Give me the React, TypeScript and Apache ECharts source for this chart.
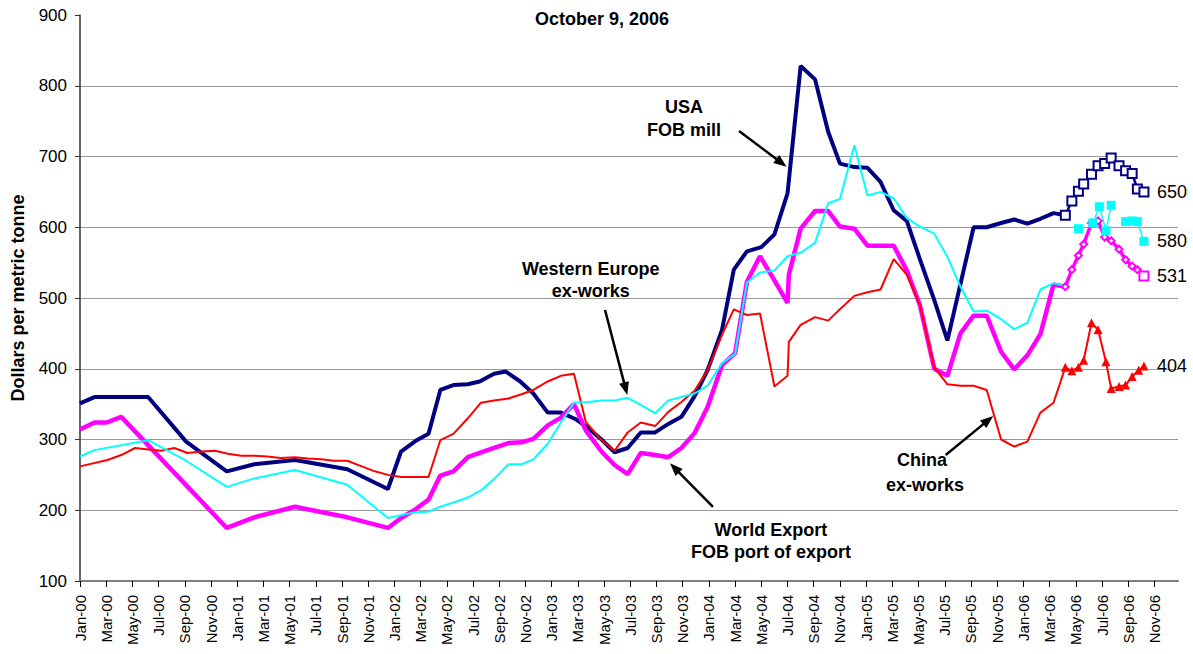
import React, { useEffect, useRef } from "react";
import * as echarts from "echarts";

// x values are months since Jan-2000 (0 = Jan-00)
const tickLabels = [
  "Jan-00", "Mar-00", "May-00", "Jul-00", "Sep-00", "Nov-00",
  "Jan-01", "Mar-01", "May-01", "Jul-01", "Sep-01", "Nov-01",
  "Jan-02", "Mar-02", "May-02", "Jul-02", "Sep-02", "Nov-02",
  "Jan-03", "Mar-03", "May-03", "Jul-03", "Sep-03", "Nov-03",
  "Jan-04", "Mar-04", "May-04", "Jul-04", "Sep-04", "Nov-04",
  "Jan-05", "Mar-05", "May-05", "Jul-05", "Sep-05", "Nov-05",
  "Jan-06", "Mar-06", "May-06", "Jul-06", "Sep-06", "Nov-06",
];
const tickMonths = tickLabels.map((_, i) => i * 2);

// USA FOB mill
const usaMonths = [0, 1.1, 5.2, 8.1, 11.2, 13.3, 16.4, 20.4, 23.5, 24.5, 25.7, 26.6, 27.5, 28.5, 29.6, 30.5, 31.6, 32.5, 33.6, 34.6, 35.7, 36.7, 37.8, 38.8, 39.8, 40.8, 41.8, 42.8, 43.9, 44.9, 45.9, 46.9, 47.9, 49.0, 49.9, 50.9, 52.0, 53.0, 54.0, 55.0, 56.1, 57.1, 58.0, 59.1, 60.1, 61.1, 62.1, 63.1, 64.1, 65.2, 66.2, 67.2, 68.2, 69.2, 70.3, 71.3, 72.3, 73.3, 74.3, 75.2];
const usaValues = [351, 360, 360, 297, 255, 265, 271, 258, 230, 283, 299, 308, 370, 377, 378, 382, 393, 396, 382, 365, 338, 338, 329, 316, 300, 282, 288, 310, 310, 322, 332, 361, 398, 455, 540, 566, 572, 590, 648, 828, 809, 735, 690, 685, 684, 664, 624, 609, 555, 497, 440, 520, 600, 600, 606, 611, 605, 612, 620, 617];
const usaRecentMonths = [75.2, 75.7, 76.2, 76.6, 77.2, 77.7, 78.2, 78.7, 79.3, 79.8, 80.3, 80.7, 81.2];
const usaRecentValues = [617, 637, 651, 661, 675, 687, 690, 698, 687, 680, 676, 654, 650];

// World Export FOB port of export
const worldMonths = [0, 1.1, 2.05, 3.15, 11.2, 13.3, 16.4, 20.4, 23.5, 24.5, 25.5, 26.6, 27.5, 28.5, 29.6, 30.5, 31.6, 32.7, 33.7, 34.6, 35.7, 36.7, 37.7, 38.6, 39.8, 40.8, 41.8, 42.8, 43.9, 44.9, 45.9, 46.9, 47.9, 49.0, 50.0, 50.9, 51.9, 53.0, 54.0, 54.1, 55.0, 56.1, 57.1, 58.0, 59.1, 60.1, 61.1, 62.1, 63.1, 64.1, 65.2, 66.2, 67.2, 68.2, 69.2, 70.3, 71.3, 72.3, 73.3, 74.3, 75.2];
const worldValues = [314, 324, 324, 332, 175, 190, 205, 190, 175, 189, 200, 215, 249, 255, 275, 281, 288, 295, 296, 301, 320, 331, 350, 313, 283, 264, 251, 281, 278, 275, 288, 309, 346, 405, 422, 523, 559, 525, 493, 533, 598, 623, 623, 601, 598, 574, 574, 574, 539, 490, 400, 390, 450, 475, 475, 424, 399, 419, 449, 519, 516];
const worldRecentMonths = [75.2, 75.7, 76.2, 76.6, 77.2, 77.7, 78.2, 78.7, 79.3, 79.8, 80.3, 80.7, 81.2];
const worldRecentValues = [516, 540, 560, 576, 606, 609, 586, 581, 569, 554, 545, 540, 531];

// Western Europe ex-works
const europeMonths = [0, 1.1, 5.2, 8.1, 11.2, 13.3, 16.4, 20.4, 23.5, 24.5, 25.5, 26.6, 27.5, 28.5, 29.6, 30.6, 31.6, 32.7, 33.7, 34.6, 35.7, 36.7, 37.7, 38.8, 39.8, 40.8, 41.8, 42.8, 43.9, 44.9, 45.9, 46.9, 47.9, 49.0, 50.0, 50.9, 51.9, 53.0, 54.0, 55.0, 56.1, 57.1, 58.0, 59.1, 60.1, 61.1, 62.1, 63.1, 64.1, 65.2, 66.2, 67.2, 68.2, 69.2, 70.3, 71.3, 72.3, 73.3, 74.3, 75.2];
const europeValues = [276, 285, 299, 270, 233, 245, 257, 236, 189, 193, 197, 198, 205, 211, 218, 228, 244, 265, 265, 272, 294, 324, 352, 353, 355, 355, 359, 349, 337, 355, 360, 365, 376, 408, 421, 522, 536, 539, 559, 564, 578, 634, 640, 716, 645, 650, 641, 613, 601, 591, 558, 516, 481, 482, 470, 456, 465, 512, 521, 517];
const europeRecentMonths = [76.2, 76.7, 77.3, 77.8, 78.3, 78.7, 79.2, 79.8, 80.3, 80.7, 81.2];
const europeRecentValues = [598, null, 606, 629, 595, 631, null, 608, 609, 608, 580];

// China ex-works
const chinaMonths = [0, 2.1, 3.15, 4.2, 5.2, 6.2, 7.2, 8.2, 9.3, 10.3, 11.3, 12.3, 13.3, 14.3, 15.3, 16.4, 17.4, 18.4, 19.4, 20.4, 21.5, 22.5, 23.5, 24.5, 25.5, 26.6, 27.5, 28.5, 29.6, 30.6, 31.6, 32.7, 33.7, 34.6, 35.7, 36.7, 37.7, 38.6, 39.8, 40.8, 41.8, 42.8, 43.9, 44.9, 45.9, 46.9, 47.9, 49.0, 49.9, 50.9, 51.9, 53.0, 54.0, 54.1, 55.0, 56.1, 57.1, 58.0, 59.1, 60.1, 61.1, 62.1, 63.1, 64.1, 65.2, 66.2, 67.2, 68.2, 69.2, 70.3, 71.3, 72.3, 73.3, 74.3, 75.2];
const chinaValues = [262, 271, 278, 288, 286, 284, 288, 281, 283, 284, 280, 277, 277, 276, 274, 275, 273, 272, 270, 270, 262, 255, 250, 247, 247, 247, 299, 308, 330, 352, 355, 358, 364, 370, 382, 390, 393, 325, 299, 284, 310, 324, 319, 339, 353, 369, 398, 448, 484, 476, 478, 375, 390, 438, 462, 473, 468, 484, 503, 508, 512, 555, 533, 490, 402, 378, 376, 376, 370, 300, 290, 297, 338, 352, 402];
const chinaRecentMonths = [75.2, 75.7, 76.2, 76.6, 77.2, 77.7, 78.3, 78.7, 79.3, 79.8, 80.3, 80.8, 81.2];
const chinaRecentValues = [402, 397, 402, 412, 465, 455, 410, 372, 375, 377, 389, 398, 404];

// Annotations (anchored in data space: [month, value])
const annotations = [
  { lines: [{ text: "USA", at: [46.1, 770] }, { text: "FOB mill", at: [46.1, 737.5] }], tail: [50.3, 736], head: [53.93, 685.6] },
  { lines: [{ text: "Western Europe", at: [38.98, 541] }, { text: "ex-works", at: [38.98, 509.9] }], tail: [40.07, 483], head: [41.77, 362.9] },
  { lines: [{ text: "World Export", at: [52.73, 172.1] }, { text: "FOB port of export", at: [52.73, 141] }], tail: [48.31, 204.6], head: [45.03, 266.4] },
  { lines: [{ text: "China", at: [64.26, 271] }, { text: "ex-works", at: [64.49, 235.7] }], tail: [66.07, 278.1], head: [69.7, 333.2] },
];

const FONT = "'Liberation Sans', Arial, sans-serif";
const NAVY = "#000080";
const MAGENTA = "#FF00FF";
const CYAN = "#00FFFF";
const RED = "#FF0000";

const pairs = (xs: number[], ys: (number | null)[]) =>
  xs.map((x, i) => (ys[i] === null ? [x, "-"] : [x, ys[i]]));

const endLabel = {
  show: true,
  formatter: (p: any) => String(Array.isArray(p.value) ? p.value[1] : p.value),
  color: "#000",
  fontSize: 18,
  fontFamily: FONT,
  distance: 13,
};

export default function App() {
  const ref = useRef<HTMLDivElement>(null);

  useEffect(() => {
    if (!ref.current) return;
    const chart = echarts.init(ref.current, null, { renderer: "svg" });

    const worldRecentData: any[] = pairs(worldRecentMonths, worldRecentValues);
    const lastIdx = worldRecentData.length - 1;
    worldRecentData[lastIdx] = { value: worldRecentData[lastIdx], symbol: "rect", symbolSize: 9 };

    const option: any = {
      animation: false,
      backgroundColor: "#ffffff",
      textStyle: { fontFamily: FONT },
      title: {
        text: "October 9, 2006",
        left: 530,
        top: 5,
        textStyle: { fontFamily: FONT, fontWeight: "bold", fontSize: 18, color: "#000" },
      },
      grid: { left: 80, right: 15, top: 15, bottom: 73, containLabel: false },
      xAxis: {
        type: "value",
        min: 0,
        max: 83.8,
        axisLine: { show: true, onZero: false, lineStyle: { color: "#808080", width: 2 } },
        axisTick: { show: true, customValues: tickMonths, length: 6, lineStyle: { color: "#000", width: 1 } },
        axisLabel: {
          customValues: tickMonths,
          rotate: 90,
          margin: 14,
          fontSize: 15,
          color: "#000",
          fontFamily: FONT,
          formatter: (v: number) => tickLabels[Math.round(v / 2)] ?? "",
        },
        splitLine: { show: false },
      },
      yAxis: {
        type: "value",
        min: 100,
        max: 900,
        interval: 100,
        name: "Dollars per metric tonne",
        nameLocation: "middle",
        nameRotate: 90,
        nameGap: 53,
        nameTextStyle: { fontFamily: FONT, fontWeight: "bold", fontSize: 18, color: "#000" },
        axisLine: { show: true, lineStyle: { color: "#333", width: 1.5 } },
        axisTick: { show: true, length: 5, lineStyle: { color: "#333" } },
        axisLabel: { fontSize: 17, margin: 13, color: "#000", fontFamily: FONT },
        splitLine: { show: true, showMaxLine: false, lineStyle: { color: "#999", width: 1 } },
      },
      series: [
        {
          name: "USA FOB mill",
          type: "line",
          data: pairs(usaMonths, usaValues),
          symbol: "none",
          lineStyle: { color: NAVY, width: 4 },
          itemStyle: { color: NAVY },
        },
        {
          name: "World Export FOB port of export",
          type: "line",
          data: pairs(worldMonths, worldValues),
          symbol: "none",
          lineStyle: { color: MAGENTA, width: 4.5 },
          itemStyle: { color: MAGENTA },
        },
        {
          name: "China ex-works",
          type: "line",
          data: pairs(chinaMonths, chinaValues),
          symbol: "none",
          lineStyle: { color: RED, width: 2 },
          itemStyle: { color: RED },
        },
        {
          name: "Western Europe ex-works",
          type: "line",
          data: pairs(europeMonths, europeValues),
          symbol: "none",
          lineStyle: { color: CYAN, width: 2 },
          itemStyle: { color: CYAN },
        },
        {
          name: "USA FOB mill (recent)",
          type: "line",
          data: pairs(usaRecentMonths, usaRecentValues),
          symbol: "rect",
          symbolSize: 9,
          showAllSymbol: true,
          lineStyle: { color: NAVY, width: 2.5 },
          itemStyle: { color: "#fff", borderColor: NAVY, borderWidth: 2 },
          endLabel,
        },
        {
          name: "World Export (recent)",
          type: "line",
          data: worldRecentData,
          symbol: "diamond",
          symbolSize: 7,
          showAllSymbol: true,
          lineStyle: { color: MAGENTA, width: 3.5 },
          itemStyle: { color: "#fff", borderColor: MAGENTA, borderWidth: 2 },
          endLabel,
        },
        {
          name: "China ex-works (recent)",
          type: "line",
          data: pairs(chinaRecentMonths, chinaRecentValues),
          symbol: "triangle",
          symbolSize: 9,
          showAllSymbol: true,
          lineStyle: { color: RED, width: 2 },
          itemStyle: { color: RED },
          endLabel,
        },
        {
          name: "Western Europe ex-works (recent)",
          type: "line",
          data: pairs(europeRecentMonths, europeRecentValues),
          connectNulls: false,
          symbol: "rect",
          symbolSize: 9,
          showAllSymbol: true,
          lineStyle: { color: CYAN, width: 1.5 },
          itemStyle: { color: CYAN },
          endLabel,
        },
      ],
    };

    chart.setOption(option);

    const toPx = (p: number[]) => chart.convertToPixel({ gridIndex: 0 }, p) as number[];
    const elements: any[] = [];
    annotations.forEach((a) => {
      a.lines.forEach((l) => {
        const [x, y] = toPx(l.at);
        elements.push({
          type: "text",
          x,
          y,
          style: {
            text: l.text,
            fontSize: 18,
            fontWeight: "bold",
            fontFamily: FONT,
            fill: "#000",
            textAlign: "center",
            textVerticalAlign: "middle",
          },
        });
      });
      const [tx, ty] = toPx(a.tail);
      const [hx, hy] = toPx(a.head);
      const dx = hx - tx;
      const dy = hy - ty;
      const len = Math.hypot(dx, dy);
      const ux = dx / len;
      const uy = dy / len;
      const headLen = 13;
      const headHalf = 5;
      const bx = hx - ux * headLen;
      const by = hy - uy * headLen;
      elements.push({
        type: "line",
        shape: { x1: tx, y1: ty, x2: bx + ux * 1, y2: by + uy * 1 },
        style: { stroke: "#000", lineWidth: 2.5 },
      });
      elements.push({
        type: "polygon",
        shape: {
          points: [
            [hx, hy],
            [bx - uy * headHalf, by + ux * headHalf],
            [bx + uy * headHalf, by - ux * headHalf],
          ],
        },
        style: { fill: "#000" },
      });
    });
    chart.setOption({ graphic: { elements } });

    return () => chart.dispose();
  }, []);

  return (
    <div
      ref={ref}
      style={{ position: "fixed", left: 0, top: 0, width: 1193, height: 654, background: "#fff" }}
    />
  );
}
